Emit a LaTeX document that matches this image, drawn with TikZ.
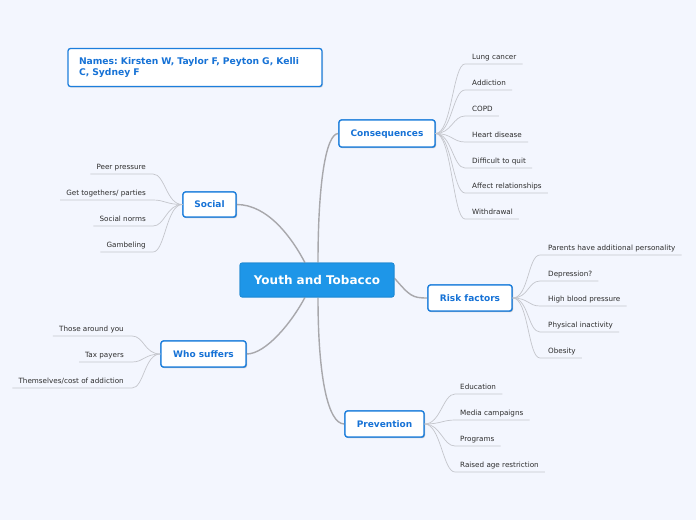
\documentclass[tikz,border=0pt]{standalone}
\usepackage{fontspec}
\setmainfont{DejaVu Sans}
\frenchspacing
\usetikzlibrary{calc,shadows}
\definecolor{bg}{RGB}{243,246,254}
\definecolor{mainblue}{RGB}{30,150,232}
\definecolor{bordblue}{RGB}{28,126,220}
\definecolor{textblue}{RGB}{22,114,214}
\definecolor{leaftext}{RGB}{45,45,45}
\definecolor{leafgray}{RGB}{196,198,204}
\definecolor{maingray}{RGB}{168,168,172}
\tikzset{
  centralbox/.style={draw=mainblue!90!black, line width=0.6pt, fill=mainblue, rounded corners=2pt,
    text=white, font=\fontsize{12}{14}\selectfont\bfseries, minimum width=154pt, minimum height=34pt,
    inner sep=0pt, text height=10.6pt, text depth=2.4pt},
  mainbox/.style={draw=bordblue, line width=1.3pt, fill=white, rounded corners=2.5pt,
    text=textblue, font=\fontsize{9}{11}\selectfont\bfseries, inner sep=0pt,
    drop shadow={opacity=0.25, shadow xshift=1pt, shadow yshift=-1.2pt}},
  mainnode/.style={mainbox, text height=8.4pt, text depth=2pt},
  leaf/.style={text=leaftext, font=\fontsize{7.2}{8}\selectfont, inner sep=0pt},
  leafline/.style={draw=leafgray, line width=0.7pt},
  mainline/.style={draw=maingray, line width=1.4pt},
}
\begin{document}
\begin{tikzpicture}[x=1pt,y=-1pt]
\fill[bg] (0,0) rectangle (696,520);
\useasboundingbox (0,0) rectangle (696,520);

% Names box
\node[mainbox, minimum width=254pt, minimum height=38pt, align=left, text width=232pt,
  font=\fontsize{9.2}{11}\selectfont\bfseries] (names) at (195,67.5)
  {Names: Kirsten W, Taylor F, Peyton G, Kelli\\C, Sydney F};

\node[centralbox] (central) at (317,280) {Youth and Tobacco};
\node[mainnode, minimum width=96pt, minimum height=27pt] (cons) at (387,133.5) {Consequences};
\node[mainnode, minimum width=53pt, minimum height=25pt] (social) at (209.5,204.5) {Social};
\node[mainnode, minimum width=84pt, minimum height=26pt] (risk) at (470,298) {Risk factors};
\node[mainnode, minimum width=85pt, minimum height=26pt] (who) at (203.5,354) {Who suffers};
\node[mainnode, minimum width=79pt, minimum height=26pt] (prev) at (384.5,424) {Prevention};

\draw[mainline] ([xshift=1pt]central.north) .. controls +(0,-80) and (326,133.5) .. (cons.west);
\draw[mainline] ([xshift=-12pt]central.north) .. controls (292,238) and (268,204.5) .. (social.east);
\draw[mainline] ([yshift=2pt]central.east) .. controls (410,296) and (412,298) .. (risk.west);
\draw[mainline] ([xshift=-12pt]central.south) .. controls (292,322) and (266,354) .. (who.east);
\draw[mainline] ([xshift=1pt]central.south) .. controls +(0,80) and (328,424) .. (prev.west);

% redraw nodes on top of connectors
\node[centralbox] at (central) {Youth and Tobacco};
\node[mainnode, minimum width=96pt, minimum height=27pt] at (cons) {Consequences};
\node[mainnode, minimum width=53pt, minimum height=25pt] at (social) {Social};
\node[mainnode, minimum width=84pt, minimum height=26pt] at (risk) {Risk factors};
\node[mainnode, minimum width=85pt, minimum height=26pt] at (who) {Who suffers};
\node[mainnode, minimum width=79pt, minimum height=26pt] at (prev) {Prevention};

% Consequences leaves
\foreach \t/\y [count=\i] in {Lung cancer/64, Addiction/90, COPD/116, Heart disease/142,
    Difficult to quit/168, Affect relationships/193, Withdrawal/219} {
  \node[leaf, anchor=base west] (c\i) at (472,\y-5) {\t};
  \coordinate (cs\i) at (465,\y);
  \draw[leafline] (cons.east) .. controls +(16,0) and +(-12,0) .. (cs\i) -- ($(c\i.base east)+(6,5)$);
}
% Risk leaves
\foreach \t/\y [count=\i] in {Parents have additional personality/255, Depression?/281,
    High blood pressure/306, Physical inactivity/332, Obesity/358} {
  \node[leaf, anchor=base west] (r\i) at (548,\y-5) {\t};
  \coordinate (rs\i) at (540,\y);
  \draw[leafline] (risk.east) .. controls +(16,0) and +(-12,0) .. (rs\i) -- ($(r\i.base east)+(6,5)$);
}
% Prevention leaves
\foreach \t/\y [count=\i] in {Education/394, Media campaigns/420, Programs/446, Raised age restriction/472} {
  \node[leaf, anchor=base west] (p\i) at (460,\y-5) {\t};
  \coordinate (ps\i) at (455,\y);
  \draw[leafline] (prev.east) .. controls +(16,0) and +(-12,0) .. (ps\i) -- ($(p\i.base east)+(6,5)$);
}
% Social leaves
\foreach \t/\y [count=\i] in {Peer pressure/174, {Get togethers/ parties}/200, Social norms/226, Gambeling/252} {
  \node[leaf, anchor=base east] (s\i) at (146,\y-5) {\t};
  \coordinate (ss\i) at (153,\y);
  \draw[leafline] (social.west) .. controls +(-16,0) and +(12,0) .. (ss\i) -- ($(s\i.base west)+(-6,5)$);
}
% Who suffers leaves
\foreach \t/\y [count=\i] in {Those around you/336, Tax payers/362, {Themselves/cost of addiction}/388} {
  \node[leaf, anchor=base east] (w\i) at (124,\y-5) {\t};
  \coordinate (ws\i) at (132,\y);
  \draw[leafline] (who.west) .. controls +(-16,0) and +(12,0) .. (ws\i) -- ($(w\i.base west)+(-6,5)$);
}
\end{tikzpicture}
\end{document}
